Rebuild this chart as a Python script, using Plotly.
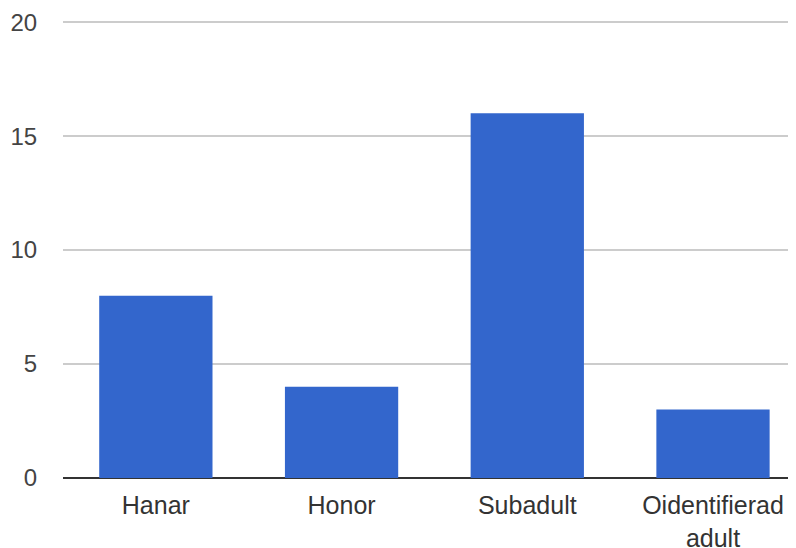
import plotly.graph_objects as go

categories = ["Hanar", "Honor", "Subadult", "Oidentifierad<br>adult"]
values = [8, 4, 16, 3]
y_ticks = [0, 5, 10, 15, 20]

fig = go.Figure(go.Bar(
    x=list(range(len(categories))),
    y=values,
    marker=dict(color="#3366cc", line=dict(width=0)),
    hoverinfo="skip",
))

fig.update_layout(
    width=796, height=548,
    margin=dict(l=55, r=0, t=13, b=78, autoexpand=False),
    paper_bgcolor="white", plot_bgcolor="white",
    bargap=0.39,
    showlegend=False,
    font=dict(family="Liberation Sans, Arial, sans-serif", size=25, color="#444444"),
)
fig.update_xaxes(
    tickmode="array",
    tickvals=list(range(len(categories))),
    ticktext=categories,
    range=[-0.5, 3.49],
    showgrid=False, zeroline=False,
    showline=False, automargin=False,
    ticks="outside", ticklen=5, tickcolor="rgba(0,0,0,0)",
    tickfont=dict(size=25, color="#333333"),
)
fig.update_yaxes(
    range=[0, 20.05],
    tickmode="array", tickvals=y_ticks,
    showgrid=True, gridcolor="#cccccc", gridwidth=1.5,
    zeroline=True, zerolinecolor="#333333", zerolinewidth=1.5,
    automargin=False,
    ticks="outside", ticklen=20, tickcolor="rgba(0,0,0,0)",
    tickfont=dict(size=24, color="#444444"),
)

fig.write_html("out.html")
